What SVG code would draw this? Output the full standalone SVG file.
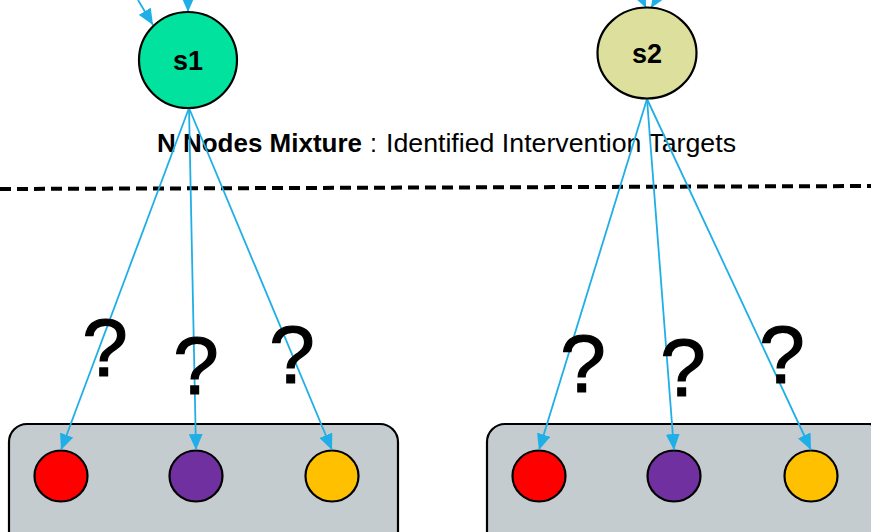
<svg xmlns="http://www.w3.org/2000/svg" width="871" height="532" viewBox="0 0 871 532">
  <style>
    .edge { stroke: #1fafe6; stroke-width: 1.8; fill: none; marker-end: url(#arrowL); }
    .node { stroke: #000; stroke-width: 2.2; }
    .group { fill: #c5cccf; stroke: #000; stroke-width: 2.2; }
    .label { font-family: "Liberation Sans", Arial, sans-serif; fill: #000; }
    .q { font-family: "Liberation Sans", Arial, sans-serif; font-size: 82px; fill: #000; stroke: #000; stroke-width: 1.2; }
  </style>
  <defs>
    <marker id="arrowL" viewBox="0 0 16 14" refX="16" refY="7" markerWidth="16" markerHeight="14" markerUnits="userSpaceOnUse" orient="auto">
      <path d="M0,0 L16,7 L0,14 z" fill="#1fafe6"/>
    </marker>
  </defs>

  <!-- separator -->
  <line x1="0" y1="189" x2="871" y2="186" stroke="#000" stroke-width="4" stroke-dasharray="11 6"/>

  <!-- caption -->
  <g id="caption" class="label" font-size="25">
    <text x="157" y="152" font-weight="bold" textLength="205" lengthAdjust="spacingAndGlyphs">N Nodes Mixture</text>
    <text x="370" y="152">:</text>
    <text x="386" y="152" textLength="350" lengthAdjust="spacingAndGlyphs">Identified Intervention Targets</text>
  </g>

  <!-- target groups -->
  <g id="group1">
    <rect class="group" x="9" y="424" width="389" height="130" rx="18"/>
    <ellipse id="g1-red" class="node" cx="61" cy="476" rx="26.5" ry="25.5" fill="#ff0000"/>
    <ellipse id="g1-purple" class="node" cx="196" cy="476" rx="26.5" ry="25.5" fill="#7030a0"/>
    <ellipse id="g1-yellow" class="node" cx="332" cy="476" rx="26.5" ry="25.5" fill="#ffc000"/>
  </g>
  <g id="group2">
    <rect class="group" x="487" y="424" width="400" height="130" rx="18"/>
    <ellipse id="g2-red" class="node" cx="539" cy="476" rx="26.5" ry="25.5" fill="#ff0000"/>
    <ellipse id="g2-purple" class="node" cx="674" cy="476" rx="26.5" ry="25.5" fill="#7030a0"/>
    <ellipse id="g2-yellow" class="node" cx="811" cy="476" rx="26.5" ry="25.5" fill="#ffc000"/>
  </g>

  <!-- connectors -->
  <g id="connectors">
    <line class="edge" x1="138" y1="0" x2="153" y2="25"/>
    <line class="edge" x1="188" y1="-10" x2="188" y2="12"/>
    <line class="edge" x1="638" y1="-10" x2="646" y2="8"/>
    <line class="edge" x1="662" y1="-10" x2="651" y2="8"/>

    <line class="edge" x1="189" y1="108" x2="61" y2="450"/>
    <line class="edge" x1="189" y1="108" x2="196" y2="450"/>
    <line class="edge" x1="189" y1="108" x2="332" y2="450"/>

    <line class="edge" x1="647" y1="99" x2="539" y2="450"/>
    <line class="edge" x1="647" y1="99" x2="674" y2="450"/>
    <line class="edge" x1="647" y1="99" x2="811" y2="450"/>
  </g>

  <!-- sources -->
  <g id="s1">
    <ellipse class="node" cx="188" cy="60" rx="49" ry="48" fill="#00e29e"/>
    <text class="label" x="188" y="70" font-size="27" font-weight="bold" text-anchor="middle">s1</text>
  </g>
  <g id="s2">
    <ellipse class="node" cx="647" cy="53" rx="49.5" ry="45.5" fill="#dce09c"/>
    <text class="label" x="647" y="63" font-size="27" font-weight="bold" text-anchor="middle">s2</text>
  </g>

  <!-- unknown-target marks -->
  <g id="marks" class="q" text-anchor="middle">
    <text x="105" y="376">?</text>
    <text x="196" y="394">?</text>
    <text x="292" y="383">?</text>
    <text x="583" y="392">?</text>
    <text x="683" y="396">?</text>
    <text x="782" y="383">?</text>
  </g>
</svg>
